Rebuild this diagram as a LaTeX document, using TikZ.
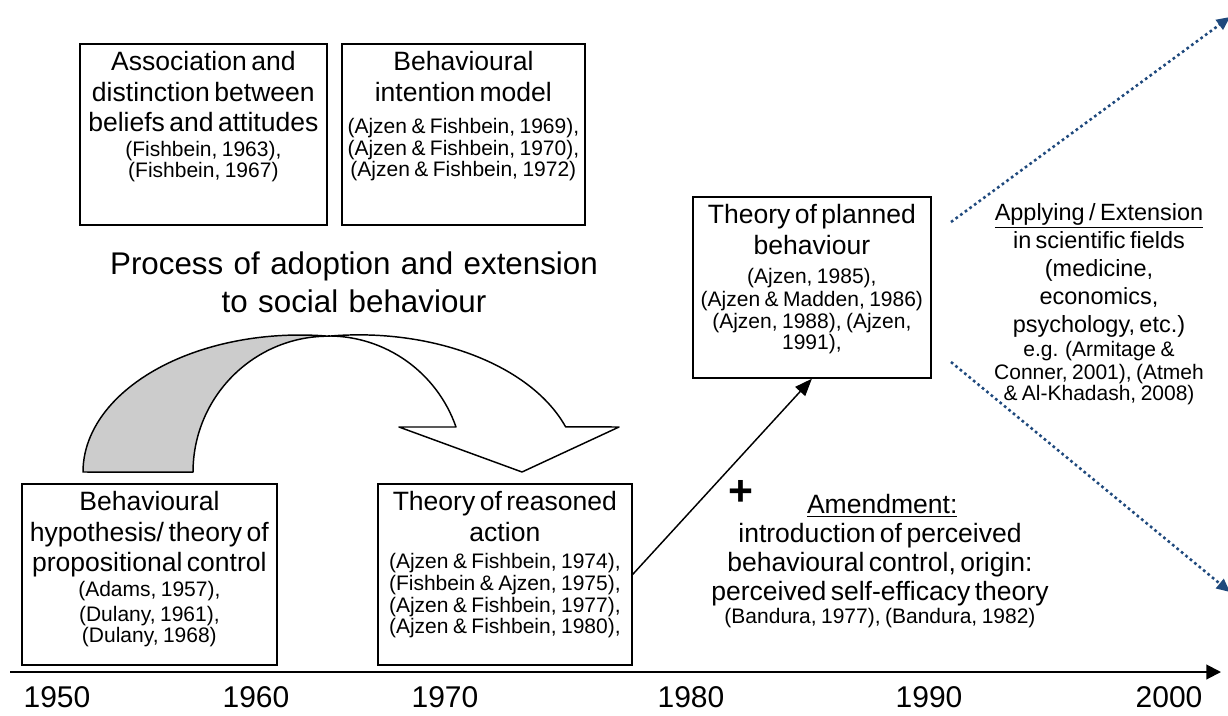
\documentclass[tikz,border=0pt]{standalone}
\usepackage{fontspec}
\setmainfont[WordSpace=1.35]{Liberation Sans}
\usepackage{tikz}
\usetikzlibrary{arrows.meta}

\definecolor{applyblue}{RGB}{31,73,125}
\newcommand{\headfont}[1][23pt]{\fontsize{19.9pt}{#1}\selectfont}
\newcommand{\citefont}[1][16.5pt]{\fontsize{15.75pt}{#1}\selectfont}
\newcommand{\applyfont}{\fontsize{17.6pt}{21pt}\selectfont}

\begin{document}
\begin{tikzpicture}[x=0.75pt,y=-0.75pt,
	box/.style={draw,line width=1.3pt,anchor=north west,align=center,inner xsep=0pt,inner ysep=0pt,
		text width=#1,text height=20pt,text depth=115.75pt},
	free/.style={align=center,inner sep=0pt,anchor=north},
	year/.style={inner sep=0pt,font=\fontsize{22.5pt}{27pt}\selectfont},
	curvearrow/.style={line width=1.1pt,line join=round},
	timeline/.style={line width=1.5pt,-{Triangle[length=11pt,width=11pt]}},
	link/.style={line width=1.1pt,-{Triangle[length=13pt,width=10pt]}},
	dotarrow/.style={applyblue,line width=1.9pt,dash pattern=on 2pt off 2.3pt,-{Triangle[length=10pt,width=9pt]}}]

	\useasboundingbox (0,0) rectangle (1228,715);

	% early work (top row)
	\node[box=185.25pt] (assoc) at (79,43) {{\headfont Association and\\ distinction between\\ beliefs and attitudes\par}
		\citefont[18.75pt] (Fishbein, 1963),\\ (Fishbein, 1967)};
	\node[box=182.25pt] (intent) at (341,43) {{\headfont Behavioural\\ intention model\par}\vspace{8pt}
		\citefont (Ajzen \& Fishbein, 1969),\\ (Ajzen \& Fishbein, 1970),\\ (Ajzen \& Fishbein, 1972)};

	\node[free,text width=400pt,text height=17pt,font=\fontsize{23.5pt}{28pt}\selectfont] (title) at (354,252)
		{Process of adoption and extension\\ to social behaviour};

	% curved arrow
	\filldraw[curvearrow,fill=gray!40] (83,472) arc[start angle=180,end angle=277.5,x radius=217,y radius=137]
		arc[start angle=270,end angle=180,x radius=135.3,y radius=136] -- cycle;
	\filldraw[curvearrow,fill=white] (328.3,336.2) arc[start angle=262,end angle=340.8,x radius=219,y radius=137]
		-- (619,427) -- (522,472) -- (399,427) -- (456,427)
		arc[start angle=340.7,end angle=270,x radius=135.3,y radius=136] -- cycle;

	% bottom row
	\node[box=191.25pt] (hypo) at (21,483) {{\headfont Behavioural\\ hypothesis/ theory of\\ propositional control\par}
		\citefont[18.75pt] (Adams, 1957),\\ (Dulany, 1961),\\ (Dulany, 1968)};
	\node[box=190.5pt] (tra) at (377,483) {{\headfont Theory of reasoned\\ action\par}\vspace{4pt}
		\citefont (Ajzen \& Fishbein, 1974),\\ (Fishbein \& Ajzen, 1975),\\ (Ajzen \& Fishbein, 1977),\\ (Ajzen \& Fishbein, 1980),};
	\node[box=178.5pt] (tpb) at (692,196) {{\headfont Theory of planned\\ behaviour\par}\vspace{5pt}
		\citefont[17pt] (Ajzen, 1985),\\ (Ajzen \& Madden, 1986)\\ (Ajzen, 1988), (Ajzen,\\ 1991),};

	\draw[link] (tra.east) -- (tpb.south);

	\node[font=\fontsize{32pt}{32pt}\selectfont\bfseries] (plus) at (741,493) {+};
	\node[free,text width=320pt,text height=14pt] (amend) at (880,495)
		{{\headfont[21.75pt] \underline{Amendment:}\\ introduction of perceived\\ behavioural control, origin:\\ perceived self-efficacy theory\par}
		\citefont[19.5pt] (Bandura, 1977), (Bandura, 1982)};

	% applying / extension
	\node[free,text width=180pt,text height=13pt] (apply) at (1099,203)
		{{\applyfont \underline{Applying / Extension}\\ in scientific fields\\ (medicine,\\ economics,\\ psychology, etc.)\par}
		\citefont[17.6pt] e.g. (Armitage \&\\ Conner, 2001), (Atmeh\\ \& Al-Khadash, 2008)};
	\coordinate (up0) at (951,222);
	\coordinate (up1) at (1230,17);
	\coordinate (dn0) at (951,362);
	\coordinate (dn1) at (1230,592);
	\draw[dotarrow] (up0) -- (up1);
	\draw[dotarrow] (dn0) -- (dn1);

	% time axis
	\coordinate (t0) at (10,672);
	\coordinate (t1) at (1221,672);
	\draw[timeline] (t0) -- (t1);
	\node[year] (y1950) at (57,697) {1950};
	\node[year] (y1960) at (256,697) {1960};
	\node[year] (y1970) at (445,697) {1970};
	\node[year] (y1980) at (691,697) {1980};
	\node[year] (y1990) at (929,697) {1990};
	\node[year] (y2000) at (1169,697) {2000};

\end{tikzpicture}
\end{document}
